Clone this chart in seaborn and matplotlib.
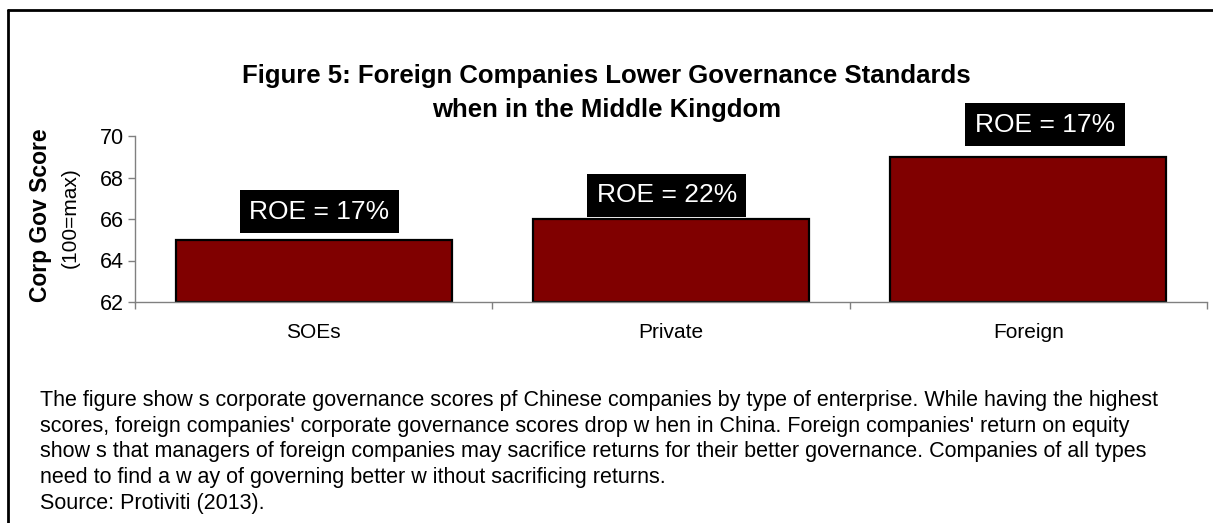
import matplotlib
matplotlib.use("Agg")
import matplotlib.pyplot as plt
import seaborn as sns
import pandas as pd
from matplotlib.lines import Line2D

# data
categories = ["SOEs", "Private", "Foreign"]
scores = [65, 66, 69]
roe_labels = ["ROE = 17%", "ROE = 22%", "ROE = 17%"]
yticks = [62, 64, 66, 68, 70]

title = ("Figure 5: Foreign Companies Lower Governance Standards\n"
         "when in the Middle Kingdom")
caption = ("The figure show s corporate governance scores pf Chinese companies by type of enterprise. While having the highest\n"
           "scores, foreign companies' corporate governance scores drop w hen in China. Foreign companies' return on equity\n"
           "show s that managers of foreign companies may sacrifice returns for their better governance. Companies of all types\n"
           "need to find a w ay of governing better w ithout sacrificing returns.\n"
           "Source: Protiviti (2013).")

df = pd.DataFrame({"type": categories, "score": scores})

sns.set_theme(style="white")
plt.rcParams["font.family"] = ["Liberation Sans", "DejaVu Sans"]
plt.rcParams["text.color"] = "black"
plt.rcParams["xtick.color"] = "black"
plt.rcParams["ytick.color"] = "black"

W, H = 1213, 523
fig = plt.figure(figsize=(W / 100, H / 100), dpi=100)
ax = fig.add_axes([135 / W, 1 - 302 / H, (1207 - 135) / W, (302 - 136) / H])

sns.barplot(data=df, x="type", y="score", order=categories, color="#800000",
            saturation=1, width=0.773, edgecolor="black", linewidth=1.6, ax=ax)
# bars start from the axis bottom (62), not zero
for patch, val in zip(ax.patches, scores):
    patch.set_y(62)
    patch.set_height(val - 62)

ax.set_ylim(62, 70)
ax.set_xlim(-0.5, 2.5)
ax.set_yticks(yticks)
ax.tick_params(axis="y", labelsize=15.5, length=5, width=1, color="#808080",
               labelcolor="black", direction="out", left=True, pad=3)
ax.tick_params(axis="x", which="major", labelsize=15, length=0, pad=15,
               labelcolor="black")
ax.set_xticks([-0.5, 0.5, 1.5, 2.5], minor=True)
ax.tick_params(axis="x", which="minor", length=5, width=1, color="#808080",
               direction="out", bottom=True)
for s in ["top", "right"]:
    ax.spines[s].set_visible(False)
for s in ["left", "bottom"]:
    ax.spines[s].set_color("#808080")
    ax.spines[s].set_linewidth(1)
ax.set_xlabel("")
ax.set_ylabel("")

# y label: bold + normal line
fig.text(41 / W, 1 - 215 / H, "Corp Gov Score", rotation=90, fontsize=16.5,
         fontweight="bold", ha="center", va="center")
fig.text(70 / W, 1 - 218 / H, "(100=max)", rotation=90, fontsize=15,
         ha="center", va="center")

# ROE labels
offsets = [(4, 20), (-3, 17), (12, 23)]
for i, (val, lab) in enumerate(zip(scores, roe_labels)):
    ax.annotate(lab, xy=(i, val), xytext=offsets[i], textcoords="offset points",
                ha="center", va="center", color="white", fontsize=19,
                annotation_clip=False,
                bbox=dict(boxstyle="square,pad=0.36", facecolor="black",
                          edgecolor="none"))

fig.text(0.5, 1 - 93 / H, title, ha="center", va="center", fontsize=18.5,
         fontweight="bold", linespacing=1.48)

fig.text(40 / W, 1 - 452 / H, caption, ha="left", va="center", fontsize=15.5,
         linespacing=1.31)

# border (top and left visible, rest runs off the image)
fig.add_artist(Line2D([8 / W, 1.01], [1 - 10 / H, 1 - 10 / H], color="black", lw=2))
fig.add_artist(Line2D([8 / W, 8 / W], [1 - 10 / H, -0.01], color="black", lw=2))

fig.savefig("out.png", dpi=100)
